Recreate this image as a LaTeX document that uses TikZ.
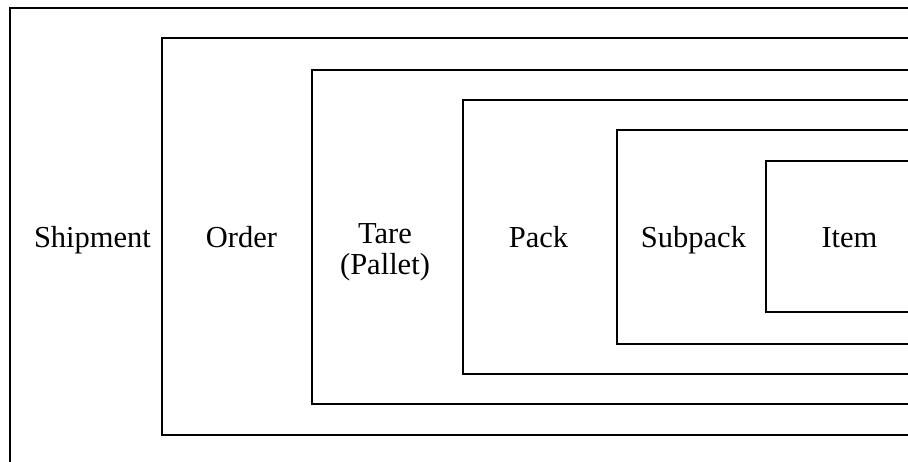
\documentclass[tikz,border=0pt]{standalone}
\usepackage{fontspec}
\setmainfont{Liberation Serif}
\begin{document}
\begin{tikzpicture}[x=1pt,y=1pt,
  frame/.style={draw=black,line width=2pt,line join=miter},
  lbl/.style={anchor=base,inner sep=0pt,font=\fontsize{30.5}{31}\selectfont,align=center}]
\useasboundingbox (0,0) rectangle (908,461);
\fill[white] (0,0) rectangle (908,461);
\clip (0,0) rectangle (908,461);
% nested frames, open on the right (y = 461 - pixel row)
\draw[frame] (920,453) -- (10,453) -- (10,-10);
\draw[frame] (920,423) -- (162,423) -- (162,26) -- (920,26);
\draw[frame] (920,391) -- (312,391) -- (312,57) -- (920,57);
\draw[frame] (920,361) -- (463,361) -- (463,87) -- (920,87);
\draw[frame] (920,331) -- (617,331) -- (617,117) -- (920,117);
\draw[frame] (920,300) -- (766,300) -- (766,149) -- (920,149);
% labels
\node[lbl] (shipment) at (92.5,213) {Shipment};
\node[lbl] (order) at (241.5,213) {Order};
\node[lbl] (tare) at (385,186) {Tare\\(Pallet)};
\node[lbl] (pack) at (538.5,213) {Pack};
\node[lbl] (subpack) at (693.5,213) {Subpack};
\node[lbl] (item) at (849.5,213) {Item};
\end{tikzpicture}
\end{document}
